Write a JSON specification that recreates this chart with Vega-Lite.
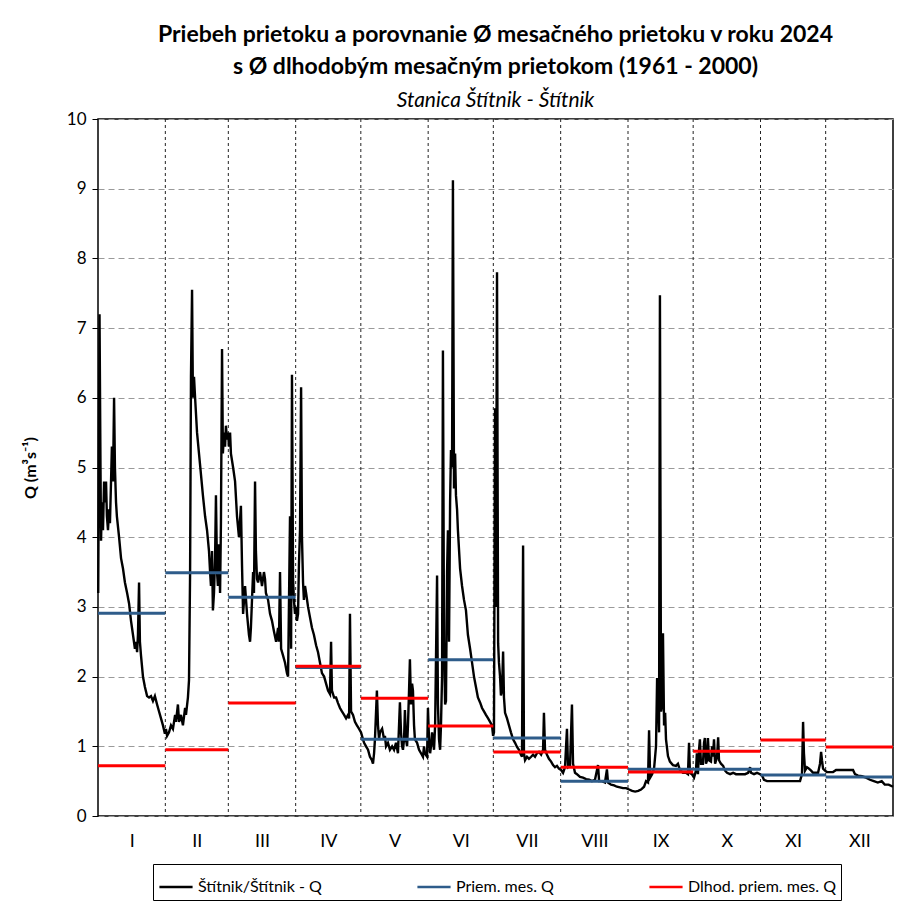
{
  "$schema": "https://vega.github.io/schema/vega-lite/v6.json",
  "width": 795,
  "height": 697,
  "autosize": {"type": "none"},
  "padding": {"left": 98, "top": 119, "right": 22, "bottom": 100},
  "background": "white",
  "config": {
    "font": "Lato",
    "view": {"stroke": "black", "strokeWidth": 1.5},
    "axis": {"labelFont": "Lato", "titleFont": "Lato", "labelColor": "black", "titleColor": "black"}
  },
  "title": {
    "text": ["Priebeh prietoku a porovnanie Ø mesačného prietoku v roku 2024", "s Ø dlhodobým  mesačným prietokom (1961 - 2000)"],
    "subtitle": "Stanica Štítnik - Štítnik",
    "fontSize": 23,
    "fontWeight": "bold",
    "lineHeight": 32,
    "font": "Lato",
    "subtitleFont": "Lato",
    "subtitleFontSize": 21,
    "subtitleFontStyle": "italic",
    "subtitleColor": "black",
    "subtitlePadding": 11,
    "anchor": "middle",
    "frame": "group",
    "offset": -1,
    "color": "black"
  },
  "datasets": {
    "flow": [
      {"d":0.1,"q":3.2},{"d":0.7,"q":7.2},{"d":1.15,"q":5.0},{"d":1.4,"q":3.95},{"d":1.8,"q":4.5},{"d":2.3,"q":4.1},{"d":2.8,"q":4.8},{"d":3.2,"q":4.5},{"d":3.7,"q":4.8},{"d":4.1,"q":4.3},{"d":4.6,"q":4.1},{"d":5.1,"q":4.4},{"d":5.5,"q":4.2},{"d":6.0,"q":4.8},{"d":6.4,"q":5.3},{"d":6.9,"q":4.8},{"d":7.4,"q":6.0},{"d":7.8,"q":5.0},{"d":8.3,"q":4.5},{"d":8.7,"q":4.3},{"d":9.7,"q":4.0},{"d":10.6,"q":3.7},{"d":11.5,"q":3.55},{"d":12.4,"q":3.35},{"d":13.4,"q":3.2},{"d":14.3,"q":3.05},{"d":15.2,"q":2.8},{"d":16.1,"q":2.6},{"d":17.0,"q":2.4},{"d":17.5,"q":2.5},{"d":18.0,"q":2.35},{"d":18.4,"q":2.6},{"d":18.9,"q":3.35},{"d":19.3,"q":2.5},{"d":19.8,"q":2.3},{"d":20.7,"q":2.0},{"d":21.6,"q":1.85},{"d":22.6,"q":1.72},{"d":23.5,"q":1.7},{"d":24.4,"q":1.72},{"d":25.3,"q":1.65},{"d":26.2,"q":1.72},{"d":27.2,"q":1.6},{"d":28.1,"q":1.5},{"d":29.0,"q":1.4},{"d":29.9,"q":1.3},{"d":30.8,"q":1.18},{"d":31.3,"q":1.25},{"d":31.8,"q":1.15},
      {"d":32.7,"q":1.2},{"d":33.6,"q":1.3},{"d":34.5,"q":1.25},{"d":35.5,"q":1.45},{"d":35.9,"q":1.35},{"d":36.8,"q":1.6},{"d":37.3,"q":1.35},{"d":38.2,"q":1.45},{"d":39.1,"q":1.3},{"d":40.1,"q":1.55},{"d":40.5,"q":1.45},{"d":41.4,"q":1.7},{"d":41.9,"q":1.95},{"d":42.4,"q":3.5},{"d":42.8,"q":6.3},{"d":43.3,"q":7.55},{"d":43.7,"q":6.0},{"d":44.2,"q":6.3},{"d":44.7,"q":6.0},{"d":45.6,"q":5.5},{"d":46.5,"q":5.2},{"d":47.4,"q":4.9},{"d":48.3,"q":4.6},{"d":49.3,"q":4.3},{"d":50.2,"q":4.1},{"d":51.1,"q":3.8},{"d":51.6,"q":3.5},{"d":52.0,"q":3.3},{"d":52.5,"q":3.8},{"d":52.9,"q":2.95},{"d":53.4,"q":3.2},{"d":53.9,"q":3.7},{"d":54.3,"q":4.6},{"d":54.8,"q":3.5},{"d":55.2,"q":3.3},{"d":55.7,"q":3.9},{"d":56.2,"q":3.2},{"d":56.6,"q":4.2},{"d":57.1,"q":6.7},{"d":57.5,"q":5.2},{"d":58.0,"q":5.5},{"d":58.5,"q":5.3},{"d":58.9,"q":5.6},{"d":59.4,"q":5.4},{"d":59.9,"q":5.5},{"d":60.3,"q":5.3},{"d":60.8,"q":5.5},{"d":61.2,"q":5.2},
      {"d":62.2,"q":5.0},{"d":63.1,"q":4.8},{"d":64.0,"q":4.3},{"d":64.9,"q":4.0},{"d":65.8,"q":4.45},{"d":66.3,"q":3.6},{"d":66.8,"q":2.9},{"d":67.7,"q":3.3},{"d":68.6,"q":2.9},{"d":69.5,"q":2.6},{"d":70.0,"q":2.5},{"d":70.4,"q":2.7},{"d":71.4,"q":3.5},{"d":71.8,"q":3.2},{"d":72.3,"q":4.8},{"d":72.7,"q":3.8},{"d":73.2,"q":3.4},{"d":73.7,"q":3.35},{"d":74.6,"q":3.5},{"d":75.5,"q":3.3},{"d":76.4,"q":3.5},{"d":76.9,"q":3.4},{"d":77.3,"q":3.2},{"d":78.3,"q":3.1},{"d":79.2,"q":2.9},{"d":80.1,"q":2.8},{"d":81.0,"q":2.65},{"d":82.0,"q":2.5},{"d":82.9,"q":2.7},{"d":83.3,"q":2.5},{"d":83.8,"q":3.5},{"d":84.3,"q":2.4},{"d":85.2,"q":2.3},{"d":86.1,"q":2.2},{"d":87.0,"q":2.05},{"d":87.5,"q":2.0},{"d":87.9,"q":3.0},{"d":88.4,"q":4.3},{"d":88.9,"q":2.4},{"d":89.3,"q":6.33},{"d":89.8,"q":3.4},{"d":90.2,"q":3.1},{"d":90.7,"q":2.9},{"d":91.2,"q":3.0},{"d":91.6,"q":2.8},
      {"d":92.1,"q":2.9},{"d":92.5,"q":3.6},{"d":93.0,"q":4.1},{"d":93.5,"q":6.15},{"d":93.9,"q":4.0},{"d":94.4,"q":3.35},{"d":94.8,"q":3.1},{"d":95.3,"q":3.3},{"d":95.8,"q":3.2},{"d":96.7,"q":3.0},{"d":97.6,"q":2.85},{"d":98.5,"q":2.7},{"d":99.4,"q":2.6},{"d":100.4,"q":2.45},{"d":101.3,"q":2.35},{"d":102.2,"q":2.2},{"d":103.1,"q":2.05},{"d":104.1,"q":2.0},{"d":105.0,"q":1.9},{"d":105.9,"q":1.8},{"d":106.8,"q":1.75},{"d":107.3,"q":2.5},{"d":107.7,"q":1.8},{"d":108.7,"q":1.7},{"d":109.6,"q":1.7},{"d":110.5,"q":1.62},{"d":111.4,"q":1.55},{"d":112.3,"q":1.5},{"d":113.3,"q":1.45},{"d":114.2,"q":1.4},{"d":115.1,"q":1.45},{"d":115.6,"q":1.4},{"d":116.0,"q":2.9},{"d":116.5,"q":1.5},{"d":117.4,"q":1.45},{"d":118.3,"q":1.35},{"d":119.2,"q":1.3},{"d":120.2,"q":1.25},{"d":121.1,"q":1.2},{"d":122.0,"q":1.1},
      {"d":122.5,"q":1.05},{"d":123.4,"q":1.0},{"d":124.3,"q":0.95},{"d":125.2,"q":0.85},{"d":126.1,"q":0.8},{"d":126.6,"q":0.75},{"d":127.1,"q":0.9},{"d":127.5,"q":1.1},{"d":128.4,"q":1.8},{"d":128.9,"q":1.3},{"d":129.4,"q":1.1},{"d":129.8,"q":1.2},{"d":130.8,"q":1.25},{"d":131.7,"q":1.1},{"d":132.1,"q":1.15},{"d":132.6,"q":1.0},{"d":133.5,"q":1.05},{"d":134.4,"q":0.95},{"d":135.4,"q":1.0},{"d":136.3,"q":0.95},{"d":137.2,"q":1.05},{"d":138.1,"q":0.9},{"d":139.0,"q":1.63},{"d":139.5,"q":1.2},{"d":140.0,"q":1.0},{"d":140.4,"q":0.95},{"d":140.9,"q":1.1},{"d":141.3,"q":1.52},{"d":141.8,"q":1.1},{"d":142.3,"q":1.0},{"d":142.7,"q":1.3},{"d":143.2,"q":1.8},{"d":143.6,"q":2.25},{"d":144.1,"q":1.6},{"d":144.6,"q":1.9},{"d":145.0,"q":1.8},{"d":145.5,"q":1.3},{"d":145.9,"q":1.1},{"d":146.9,"q":1.05},{"d":147.8,"q":0.95},{"d":148.7,"q":0.9},{"d":149.6,"q":0.85},{"d":150.1,"q":1.0},{"d":150.5,"q":0.9},{"d":151.5,"q":0.85},{"d":151.9,"q":1.55},{"d":152.4,"q":1.1},{"d":152.9,"q":0.9},
      {"d":153.3,"q":1.0},{"d":153.8,"q":1.2},{"d":154.7,"q":0.95},{"d":155.2,"q":1.3},{"d":156.1,"q":3.45},{"d":156.5,"q":1.6},{"d":157.0,"q":1.1},{"d":157.5,"q":0.95},{"d":157.9,"q":1.3},{"d":158.4,"q":2.0},{"d":158.8,"q":6.68},{"d":159.3,"q":2.5},{"d":159.8,"q":1.6},{"d":160.2,"q":1.65},{"d":160.7,"q":3.5},{"d":161.1,"q":4.1},{"d":161.6,"q":2.5},{"d":162.1,"q":4.5},{"d":162.5,"q":5.25},{"d":163.0,"q":5.0},{"d":163.4,"q":9.12},{"d":163.9,"q":4.7},{"d":164.4,"q":5.2},{"d":164.8,"q":4.6},{"d":165.3,"q":4.4},{"d":165.7,"q":4.1},{"d":166.7,"q":3.55},{"d":167.6,"q":3.3},{"d":168.5,"q":3.1},{"d":169.4,"q":2.95},{"d":170.3,"q":2.6},{"d":171.3,"q":2.4},{"d":172.2,"q":2.2},{"d":173.1,"q":2.0},{"d":174.0,"q":1.85},{"d":174.9,"q":1.7},{"d":175.9,"q":1.63},{"d":176.8,"q":1.55},{"d":177.7,"q":1.5},{"d":178.6,"q":1.45},{"d":179.6,"q":1.4},{"d":180.5,"q":1.35},{"d":181.4,"q":1.3},{"d":181.9,"q":1.15},{"d":182.3,"q":1.2},
      {"d":182.8,"q":5.85},{"d":183.2,"q":3.0},{"d":183.7,"q":7.8},{"d":184.2,"q":2.48},{"d":184.6,"q":2.2},{"d":185.1,"q":2.0},{"d":185.5,"q":1.73},{"d":186.0,"q":1.8},{"d":186.5,"q":2.36},{"d":186.9,"q":1.7},{"d":187.4,"q":1.48},{"d":188.3,"q":1.4},{"d":189.2,"q":1.3},{"d":190.1,"q":1.2},{"d":191.1,"q":1.1},{"d":192.0,"q":1.05},{"d":192.9,"q":0.99},{"d":193.8,"q":0.95},{"d":194.7,"q":0.88},{"d":195.2,"q":0.85},{"d":195.7,"q":3.88},{"d":196.1,"q":0.9},{"d":196.6,"q":0.8},{"d":197.5,"q":0.85},{"d":198.4,"q":0.82},{"d":199.4,"q":0.85},{"d":200.3,"q":0.88},{"d":201.2,"q":0.85},{"d":202.1,"q":0.9},{"d":203.0,"q":0.92},{"d":204.0,"q":0.88},{"d":204.9,"q":0.95},{"d":205.3,"q":1.48},{"d":205.8,"q":0.95},{"d":206.7,"q":0.88},{"d":207.6,"q":0.82},{"d":208.6,"q":0.78},{"d":209.5,"q":0.73},{"d":210.4,"q":0.7},{"d":211.3,"q":0.72},{"d":212.2,"q":0.68},{"d":213.2,"q":0.66},
      {"d":214.1,"q":0.62},{"d":215.0,"q":0.7},{"d":215.9,"q":1.25},{"d":216.4,"q":0.7},{"d":217.3,"q":0.72},{"d":218.2,"q":1.6},{"d":218.7,"q":0.75},{"d":219.6,"q":0.62},{"d":220.5,"q":0.6},{"d":221.9,"q":0.56},{"d":223.3,"q":0.55},{"d":224.7,"q":0.53},{"d":226.1,"q":0.52},{"d":227.4,"q":0.5},{"d":228.8,"q":0.52},{"d":230.2,"q":0.73},{"d":230.7,"q":0.5},{"d":232.0,"q":0.5},{"d":233.4,"q":0.48},{"d":234.3,"q":0.67},{"d":234.8,"q":0.48},{"d":236.2,"q":0.45},{"d":237.6,"q":0.44},{"d":238.9,"q":0.42},{"d":240.3,"q":0.41},{"d":241.7,"q":0.4},{"d":243.1,"q":0.4},
      {"d":244.5,"q":0.38},{"d":245.9,"q":0.36},{"d":247.3,"q":0.35},{"d":248.7,"q":0.36},{"d":250.0,"q":0.38},{"d":251.4,"q":0.42},{"d":252.3,"q":0.5},{"d":253.2,"q":0.48},{"d":253.7,"q":1.23},{"d":254.2,"q":0.55},{"d":255.1,"q":0.6},{"d":256.0,"q":0.68},{"d":256.9,"q":1.0},{"d":257.4,"q":1.98},{"d":257.8,"q":1.8},{"d":258.3,"q":1.2},{"d":258.7,"q":7.47},{"d":259.2,"q":1.5},{"d":259.7,"q":1.6},{"d":260.1,"q":2.62},{"d":260.6,"q":1.3},{"d":261.1,"q":1.48},{"d":261.5,"q":1.1},{"d":262.4,"q":0.86},{"d":263.3,"q":0.78},{"d":264.7,"q":0.73},{"d":266.1,"q":0.72},{"d":267.0,"q":0.75},{"d":267.9,"q":0.66},{"d":269.3,"q":0.62},{"d":270.7,"q":0.62},{"d":271.6,"q":0.6},{"d":272.1,"q":1.05},{"d":272.5,"q":0.62},{"d":273.4,"q":0.6},{"d":274.4,"q":0.55},
      {"d":275.3,"q":0.65},{"d":275.7,"q":0.9},{"d":276.2,"q":0.6},{"d":276.7,"q":0.95},{"d":277.1,"q":1.1},{"d":277.6,"q":0.75},{"d":278.5,"q":0.75},{"d":279.0,"q":1.05},{"d":279.4,"q":1.12},{"d":279.9,"q":0.75},{"d":280.4,"q":0.8},{"d":280.8,"q":1.12},{"d":281.3,"q":0.8},{"d":282.2,"q":0.78},{"d":282.7,"q":1.0},{"d":283.1,"q":0.85},{"d":283.6,"q":1.1},{"d":284.1,"q":0.75},{"d":285.0,"q":0.85},{"d":285.5,"q":1.13},{"d":285.9,"q":0.8},{"d":286.8,"q":0.75},{"d":287.8,"q":0.72},{"d":288.7,"q":0.65},{"d":289.6,"q":0.62},{"d":291.0,"q":0.6},{"d":292.4,"q":0.62},{"d":293.7,"q":0.6},{"d":295.1,"q":0.6},{"d":296.5,"q":0.6},{"d":297.9,"q":0.6},{"d":299.3,"q":0.62},{"d":300.2,"q":0.7},{"d":300.6,"q":0.62},{"d":302.0,"q":0.6},{"d":303.4,"q":0.62},{"d":304.8,"q":0.6},
      {"d":305.7,"q":0.58},{"d":306.6,"q":0.52},{"d":308.0,"q":0.5},{"d":311.7,"q":0.5},{"d":316.3,"q":0.5},{"d":320.9,"q":0.5},{"d":323.2,"q":0.5},{"d":324.1,"q":0.6},{"d":324.6,"q":1.35},{"d":325.0,"q":0.9},{"d":325.5,"q":0.65},{"d":326.4,"q":0.7},{"d":327.3,"q":0.68},{"d":328.3,"q":0.65},{"d":329.2,"q":0.62},{"d":330.1,"q":0.62},{"d":331.5,"q":0.62},{"d":332.4,"q":0.75},{"d":332.9,"q":0.92},{"d":333.3,"q":0.8},{"d":333.8,"q":0.68},{"d":334.7,"q":0.65},
      {"d":335.6,"q":0.63},{"d":337.0,"q":0.63},{"d":338.4,"q":0.63},{"d":339.8,"q":0.66},{"d":341.6,"q":0.66},{"d":343.9,"q":0.66},{"d":346.2,"q":0.66},{"d":347.6,"q":0.66},{"d":348.5,"q":0.6},{"d":349.9,"q":0.58},{"d":351.7,"q":0.57},{"d":353.6,"q":0.55},{"d":355.4,"q":0.52},{"d":357.2,"q":0.5},{"d":359.0,"q":0.48},{"d":360.8,"q":0.5},{"d":362.2,"q":0.45},{"d":364.0,"q":0.45},{"d":366.0,"q":0.42}
    ],
    "months": [
      {"s":0,"e":31,"q":2.91,"series":"Priem. mes. Q"},
      {"s":31,"e":60,"q":3.49,"series":"Priem. mes. Q"},
      {"s":60,"e":91,"q":3.14,"series":"Priem. mes. Q"},
      {"s":91,"e":121,"q":2.13,"series":"Priem. mes. Q"},
      {"s":121,"e":152,"q":1.10,"series":"Priem. mes. Q"},
      {"s":152,"e":182,"q":2.24,"series":"Priem. mes. Q"},
      {"s":182,"e":213,"q":1.12,"series":"Priem. mes. Q"},
      {"s":213,"e":244,"q":0.50,"series":"Priem. mes. Q"},
      {"s":244,"e":274,"q":0.67,"series":"Priem. mes. Q"},
      {"s":274,"e":305,"q":0.67,"series":"Priem. mes. Q"},
      {"s":305,"e":335,"q":0.59,"series":"Priem. mes. Q"},
      {"s":335,"e":366,"q":0.56,"series":"Priem. mes. Q"},
      {"s":0,"e":31,"q":0.72,"series":"Dlhod. priem. mes. Q"},
      {"s":31,"e":60,"q":0.95,"series":"Dlhod. priem. mes. Q"},
      {"s":60,"e":91,"q":1.62,"series":"Dlhod. priem. mes. Q"},
      {"s":91,"e":121,"q":2.15,"series":"Dlhod. priem. mes. Q"},
      {"s":121,"e":152,"q":1.69,"series":"Dlhod. priem. mes. Q"},
      {"s":152,"e":182,"q":1.29,"series":"Dlhod. priem. mes. Q"},
      {"s":182,"e":213,"q":0.92,"series":"Dlhod. priem. mes. Q"},
      {"s":213,"e":244,"q":0.70,"series":"Dlhod. priem. mes. Q"},
      {"s":244,"e":274,"q":0.63,"series":"Dlhod. priem. mes. Q"},
      {"s":274,"e":305,"q":0.93,"series":"Dlhod. priem. mes. Q"},
      {"s":305,"e":335,"q":1.09,"series":"Dlhod. priem. mes. Q"},
      {"s":335,"e":366,"q":0.99,"series":"Dlhod. priem. mes. Q"}
    ],
    "bounds": [{"b":31},{"b":60},{"b":91},{"b":121},{"b":152},{"b":182},{"b":213},{"b":244},{"b":274},{"b":305},{"b":335}]
  },
  "layer": [
    {
      "data": {"name": "bounds"},
      "mark": {"type": "rule", "color": "#222222", "strokeWidth": 1, "strokeDash": [3, 3]},
      "encoding": {
        "x": {"field": "b", "type": "quantitative", "scale": {"domain": [0, 366], "nice": false, "zero": false},
          "axis": {
            "title": null, "grid": false, "ticks": false, "domain": false,
            "values": [15.5, 45.5, 75.5, 106, 136.5, 167, 197.5, 228.5, 259, 289.5, 320, 350.5],
            "labelExpr": "datum.value < 31 ? 'I' : datum.value < 60 ? 'II' : datum.value < 91 ? 'III' : datum.value < 121 ? 'IV' : datum.value < 152 ? 'V' : datum.value < 182 ? 'VI' : datum.value < 213 ? 'VII' : datum.value < 244 ? 'VIII' : datum.value < 274 ? 'IX' : datum.value < 305 ? 'X' : datum.value < 335 ? 'XI' : 'XII'",
            "labelFontSize": 18, "labelPadding": 16
          }
        }
      }
    },
    {
      "data": {"name": "flow"},
      "mark": {"type": "line", "strokeWidth": 2.4, "interpolate": "linear"},
      "encoding": {
        "x": {"field": "d", "type": "quantitative"},
        "y": {"field": "q", "type": "quantitative", "scale": {"domain": [0, 10], "nice": false},
          "axis": {
            "title": "Q (m³s⁻¹)", "titleFontSize": 16, "titleFontWeight": "bold", "titlePadding": 28,
            "values": [0,1,2,3,4,5,6,7,8,9,10], "format": "d", "labelFontSize": 17, "labelPadding": 6,
            "ticks": true, "tickSize": 6, "tickColor": "black", "domain": false,
            "grid": true, "gridColor": "#9a9a9a", "gridDash": [6, 4], "gridWidth": 1
          }
        },
        "color": {"datum": "Štítnik/Štítnik - Q", "type": "nominal"}
      }
    },
    {
      "data": {"name": "months"},
      "mark": {"type": "rule", "strokeWidth": 3},
      "encoding": {
        "x": {"field": "s", "type": "quantitative"},
        "x2": {"field": "e"},
        "y": {"field": "q", "type": "quantitative"},
        "color": {
          "field": "series", "type": "nominal",
          "scale": {"domain": ["Štítnik/Štítnik - Q", "Priem. mes. Q", "Dlhod. priem. mes. Q"], "range": ["black", "#2e5c8a", "#ff0000"]},
          "legend": {
            "title": null, "orient": "none", "direction": "horizontal",
            "legendX": 55, "legendY": 745,
            "symbolType": "stroke", "symbolSize": 1100, "symbolStrokeWidth": 2.5,
            "labelFontSize": 16, "labelFont": "Lato", "labelColor": "black", "labelOffset": 4,
            "columnPadding": 90, "padding": 5,
            "strokeColor": "black", "fillColor": "white"
          }
        }
      }
    }
  ]
}
